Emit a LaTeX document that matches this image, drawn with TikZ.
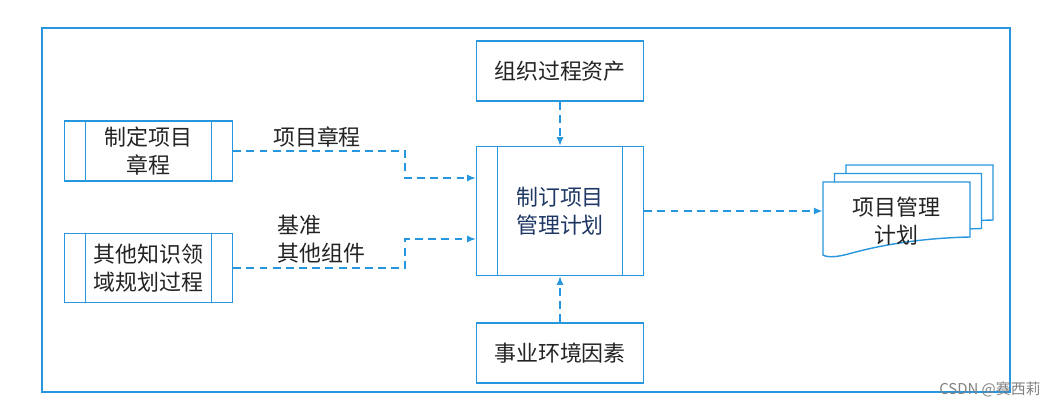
\documentclass[tikz,border=0pt]{standalone}
\usepackage{fontspec}
\newfontfamily\cjk{Noto Sans CJK SC}
\usetikzlibrary{arrows.meta}

\definecolor{lineblue}{RGB}{38,150,222}
\definecolor{textgray}{RGB}{35,35,35}
\definecolor{navy}{RGB}{30,55,100}

\tikzset{
  box/.style={draw=lineblue, line width=0.8pt, rectangle, inner sep=0pt,
    minimum width=3.36cm, minimum height=1.2cm, text=textgray, align=center},
  procbox/.style={box, path picture={
      \draw[lineblue, line width=0.8pt]
        ([xshift=0.42cm]path picture bounding box.north west) -- ([xshift=0.42cm]path picture bounding box.south west)
        ([xshift=-0.42cm]path picture bounding box.north east) -- ([xshift=-0.42cm]path picture bounding box.south east);}},
  flow/.style={draw=lineblue, line width=0.8pt, dash pattern=on 4.5pt off 3pt,
    -{Latex[length=5pt,width=4pt]}},
  lbl/.style={text=textgray, align=left, inner sep=0pt}
}

\begin{document}
\begin{tikzpicture}[x=0.02cm, y=-0.02cm, font=\cjk\fontsize{12.5}{15.8}\selectfont]

        \useasboundingbox (0,0) rectangle (1055,406);
        % outer frame
        \draw[lineblue, line width=0.8pt] (42,28) rectangle (1010,392);

        \node[procbox] (charter) at (148.5,151) {制定项目\\章程};
        \node[procbox, minimum height=1.38cm] (other) at (148.5,268) {其他知识领\\域规划过程};
        \node[procbox, minimum width=3.34cm, minimum height=2.58cm, text=navy] (plan) at (560,211) {制订项目\\管理计划};
        \node[box, minimum width=3.34cm] (assets) at (560,71) {组织过程资产};
        \node[box, minimum width=3.34cm] (env) at (560,353) {事业环境因素};

        % output documents
        \foreach \d in {2,1,0}
          \draw[lineblue, line width=0.8pt, fill=white, shift={(\d*11.5,-\d*8.5)}]
            (823,182) -- (970,182) -- (970,237)
            .. controls (925,238) and (885,244) .. (852,253)
            .. controls (838,257) and (828,258) .. (823,255) -- cycle;
        \node[lbl, align=center, minimum width=2.94cm] (doc) at (896.5,221) {项目管理\\计划};

        \node[lbl] (l1) at (317,137) {项目章程};
        \node[lbl, anchor=west] (l2) at (277,239) {基准\\其他组件};

        \draw[flow] (charter.east) -- ++(172,0) |- ([yshift=0.66cm]plan.west);
        \draw[flow] (other.east) -- ++(172,0) |- ([yshift=-0.56cm]plan.west);
        \draw[flow] (assets) -- (plan);
        \draw[flow] (env) -- (plan);
        \draw[flow] (plan.east) -- (plan.east -| doc.west);

        \node[text=gray, font=\cjk\fontsize{8.5}{10}\selectfont, anchor=east, inner sep=0pt] (wm) at (1041,389) {CSDN @赛西莉};

      \end{tikzpicture}
\end{document}
